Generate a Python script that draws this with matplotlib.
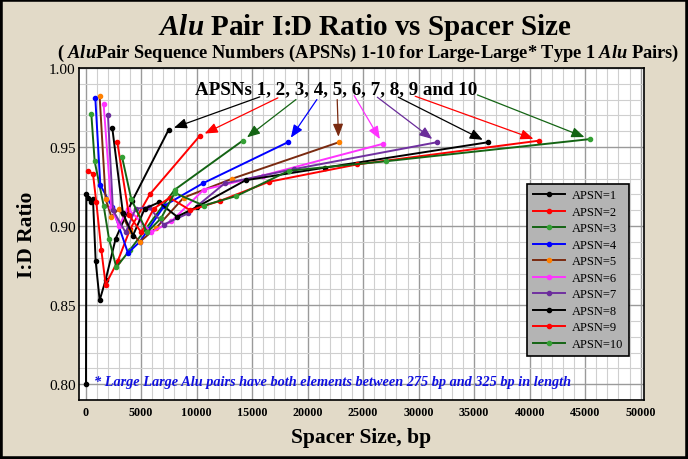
import matplotlib.pyplot as plt
import matplotlib.patches as mpatches
from matplotlib.ticker import MultipleLocator, FormatStrFormatter

# fonts - Times look-alike, italic bold for the "Alu" bits inside mathtext
plt.rcParams['font.family'] = ['Liberation Serif', 'DejaVu Serif']
plt.rcParams['mathtext.fontset'] = 'custom'
plt.rcParams['mathtext.it'] = 'Liberation Serif:italic:bold'
plt.rcParams['mathtext.rm'] = 'Liberation Serif:bold'
plt.rcParams['mathtext.bf'] = 'Liberation Serif:bold'

# Data: spacer size in bp, I:D ratio
apsn1_x = [30, 60, 240, 450, 660, 900, 1260, 1800, 2700, 4200, 7480]
apsn1_y = [0.800, 0.920, 0.918, 0.915, 0.917, 0.878, 0.853, 0.866, 0.892, 0.916, 0.961]

apsn2_x = [210, 660, 960, 1410, 1800, 2900, 4000, 5770, 10270]
apsn2_y = [0.935, 0.933, 0.915, 0.885, 0.863, 0.878, 0.898, 0.920, 0.957]

apsn3_x = [510, 810, 1620, 2100, 2760, 4000, 5500, 8020, 14140]
apsn3_y = [0.971, 0.941, 0.913, 0.892, 0.874, 0.885, 0.899, 0.923, 0.954]

apsn4_x = [870, 1320, 2400, 3810, 4870, 7100, 10540, 18200]
apsn4_y = [0.981, 0.926, 0.912, 0.883, 0.890, 0.913, 0.927, 0.953]

apsn5_x = [1260, 1800, 2310, 3000, 4000, 4870, 6370, 8830, 13210, 22790]
apsn5_y = [0.982, 0.917, 0.906, 0.911, 0.897, 0.890, 0.899, 0.918, 0.930, 0.953]

apsn6_x = [1620, 2310, 3000, 3810, 5920, 7720, 10630, 15970, 26760]
apsn6_y = [0.977, 0.912, 0.900, 0.911, 0.896, 0.903, 0.923, 0.932, 0.952]

apsn7_x = [2010, 2460, 3600, 4500, 5700, 7030, 9220, 12520, 18740, 31620]
apsn7_y = [0.970, 0.910, 0.896, 0.911, 0.912, 0.901, 0.908, 0.927, 0.936, 0.953]

apsn8_x = [2400, 3360, 4260, 5320, 6600, 8230, 10000, 14410, 21590, 36220]
apsn8_y = [0.962, 0.908, 0.894, 0.911, 0.915, 0.906, 0.912, 0.929, 0.937, 0.953]

apsn9_x = [2850, 3900, 5010, 6130, 7570, 9430, 12130, 16500, 24450, 40810]
apsn9_y = [0.953, 0.907, 0.896, 0.911, 0.918, 0.910, 0.916, 0.928, 0.939, 0.954]

apsn10_x = [3270, 4110, 5530, 6800, 8020, 10630, 13570, 18320, 27030, 45400]
apsn10_y = [0.944, 0.917, 0.896, 0.905, 0.921, 0.913, 0.919, 0.935, 0.941, 0.955]

labels = ["APSN=1", "APSN=2", "APSN=3", "APSN=4", "APSN=5",
          "APSN=6", "APSN=7", "APSN=8", "APSN=9", "APSN=10"]

series = [(apsn1_x, apsn1_y), (apsn2_x, apsn2_y), (apsn3_x, apsn3_y),
          (apsn4_x, apsn4_y), (apsn5_x, apsn5_y), (apsn6_x, apsn6_y),
          (apsn7_x, apsn7_y), (apsn8_x, apsn8_y), (apsn9_x, apsn9_y),
          (apsn10_x, apsn10_y)]

# line colour, marker colour
line_cols = ['black', '#ff0000', '#146414', '#0000ff', '#7a2a10',
             '#ff33ff', '#7030a0', 'black', '#ff0000', '#146414']
mark_cols = ['black', '#ff0000', '#35a035', '#0000ff', '#ff8000',
             '#ff33ff', '#6a2c9a', 'black', '#ff0000', '#35a035']
arrow_cols = ['black', '#ff0000', '#146414', '#0000ff', '#7a2a10',
              '#ff33ff', '#6a2c9a', 'black', '#ff0000', '#146414']

# arrow tails (axes fraction), sit under each number of the annotation
arrow_tails = [(0.320, 0.913), (0.352, 0.910), (0.384, 0.905), (0.421, 0.905),
               (0.457, 0.905), (0.487, 0.917), (0.528, 0.912), (0.565, 0.912),
               (0.595, 0.915), (0.705, 0.919)]

bg = '#e2dac8'

fig = plt.figure(figsize=(6.88, 4.60), dpi=100, facecolor=bg)
ax = fig.add_axes([79/688, 1 - 401/460, 565/688, 332/460])
ax.set_facecolor('white')

for (xs, ys), lab, lc, mc in zip(series, labels, line_cols, mark_cols):
    ax.plot(xs, ys, color=lc, lw=1.4, marker='o', markersize=3.0,
            markerfacecolor=mc, markeredgecolor=mc, label=lab, zorder=3)

# arrows from the text to the last point of each series
for (xs, ys), tail, c in zip(series, arrow_tails, arrow_cols):
    ax.annotate('', xy=(xs[-1], ys[-1]), xycoords='data',
                xytext=tail, textcoords='axes fraction',
                arrowprops=dict(arrowstyle='-|>,head_length=0.55,head_width=0.22',
                                color=c, lw=0.9, shrinkA=0, shrinkB=4,
                                mutation_scale=14), zorder=4)

ax.text(0.205, 0.925, "APSNs 1, 2, 3, 4, 5, 6, 7, 8, 9 and 10",
        transform=ax.transAxes, fontsize=13.7, fontweight='bold',
        ha='left', va='baseline', zorder=5)

ax.text(0.0265, 0.045,
        "* Large Large Alu pairs have both elements between 275 bp and 325 bp in length",
        transform=ax.transAxes, fontsize=10.3, fontweight='bold', style='italic',
        color='#1010e0', ha='left', va='baseline', zorder=5)

# axes, grid
ax.set_xlim(-600, 50300)
ax.set_ylim(0.79, 1.00)
ax.xaxis.set_major_locator(MultipleLocator(5000))
ax.xaxis.set_minor_locator(MultipleLocator(1000))
ax.yaxis.set_major_locator(MultipleLocator(0.05))
ax.yaxis.set_minor_locator(MultipleLocator(0.01))
ax.yaxis.set_major_formatter(FormatStrFormatter('%.2f'))
ax.grid(which='major', color='#9a9a9a', lw=1.0, zorder=0)
ax.grid(which='minor', color='#cfcfcf', lw=0.8, zorder=0)
ax.set_axisbelow(True)
ax.tick_params(which='both', length=0)
ax.tick_params(axis='x', pad=4, labelsize=8.7)
ax.tick_params(axis='y', pad=2.5, labelsize=11)
for t in ax.get_xticklabels():
    t.set_fontweight('bold')
for sp in ax.spines.values():
    sp.set_color('black')
    sp.set_linewidth(1.2)

ax.set_xlabel("Spacer Size, bp", fontsize=15.5, fontweight='bold')
ax.xaxis.set_label_coords(0.5, -0.111)
ax.xaxis.label.set_va('center')
ax.set_ylabel("I:D Ratio", fontsize=15.5, fontweight='bold')
ax.yaxis.set_label_coords(-0.092, 0.5)
ax.yaxis.label.set_va('center')

leg = ax.legend(loc='upper left', bbox_to_anchor=(0.793, 0.651), borderaxespad=0,
                fontsize=9, frameon=True, fancybox=False, facecolor='#b4b4b4',
                edgecolor='black', framealpha=1, labelspacing=0.36,
                handlelength=2.6, handletextpad=0.55, borderpad=0.45)
leg.get_frame().set_linewidth(1.2)
leg.set_zorder(6)

# titles
fig.text(0.531, 1 - 35/460, r"$\mathit{Alu}$ Pair I:D Ratio vs Spacer Size",
         ha='center', va='baseline', fontsize=21, fontweight='bold')
fig.text(0.535, 1 - 58/460,
         r"( $\mathit{Alu}$Pair Sequence Numbers (APSNs) 1-10 for Large-Large* Type 1 $\mathit{Alu}$ Pairs)",
         ha='center', va='baseline', fontsize=13.2, fontweight='bold')

# thick outer frame
fig.patches.append(mpatches.Rectangle((0, 0), 1, 1, transform=fig.transFigure,
                                      fill=False, edgecolor='black', lw=4))

fig.savefig('out.png', dpi=100, facecolor=bg)
